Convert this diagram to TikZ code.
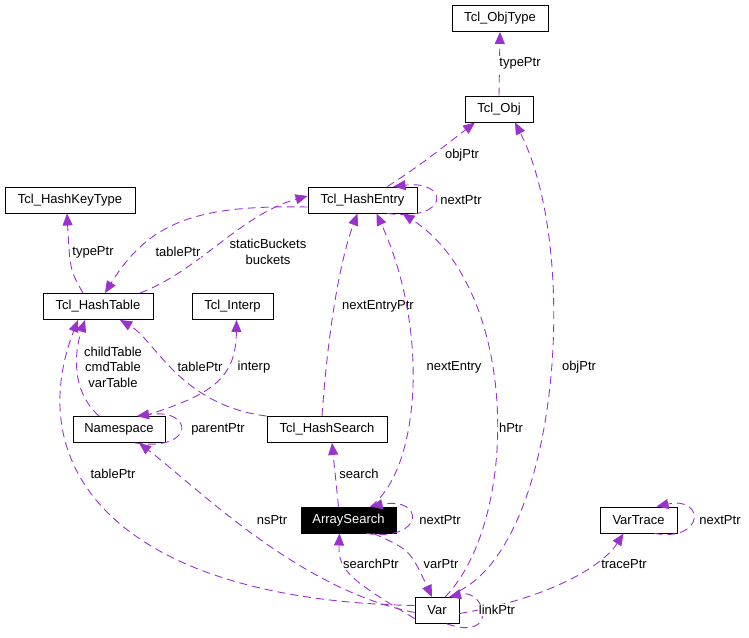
\documentclass[tikz,border=0pt]{standalone}
\usepackage{fontspec}
\setmainfont{Liberation Sans}
\usetikzlibrary{arrows.meta}
\definecolor{edge}{HTML}{9A32CD}
\begin{document}
\begin{tikzpicture}[x=1pt,y=-1pt,
  box/.style={draw,line width=0.9pt,minimum height=26pt,inner sep=0pt,font=\fontsize{13}{14}\selectfont},
  e/.style={draw=edge,line width=0.9pt,dash pattern=on 8pt off 5pt,-{Triangle[length=12pt,width=10pt,fill=edge]}},
  lbl/.style={font=\fontsize{13}{15.5}\selectfont,align=center,fill=white,inner sep=1pt}]
\useasboundingbox (0,0) rectangle (749,637);
\node[box,minimum width=96pt] (objtype) at (500,18.5) {Tcl\_ObjType};
\node[box,minimum width=68pt] (obj) at (499,109) {Tcl\_Obj};
\node[box,minimum width=109pt] (he) at (362.5,200) {Tcl\_HashEntry};
\node[box,minimum width=130pt] (hkt) at (70,200) {Tcl\_HashKeyType};
\node[box,minimum width=110pt] (ht) at (98,306.5) {Tcl\_HashTable};
\node[box,minimum width=81pt] (interp) at (232.5,306.5) {Tcl\_Interp};
\node[box,minimum width=92pt] (ns) at (119,429.5) {Namespace};
\node[box,minimum width=120pt] (hs) at (327,429.5) {Tcl\_HashSearch};
\node[box,minimum width=95pt,fill=black,text=white] (as) at (348.5,520) {ArraySearch};
\node[box,minimum width=77pt] (vt) at (638.5,520) {VarTrace};
\node[box,minimum width=44pt] (var) at (437,610.5) {Var};

\path[e] (obj.north) -- (objtype.south);
\node[lbl] at (520,63) {typePtr};
\path[e] ([xshift=-30pt]he.north east) .. controls (420,165) .. (475,122.5);
\node[lbl] at (462,155) {objPtr};
\path[e] ([xshift=-30pt]he.south east) .. controls (450,222) and (450,180) .. ([xshift=-24pt]he.north east);
\node[lbl] at (461,200) {nextPtr};
\path[e] ([xshift=-15pt]ht.north) .. controls (70,270) .. ([xshift=-3pt]hkt.south);
\node[lbl] at (93,252) {typePtr};
\path[e] ([xshift=42pt]ht.north) .. controls (200,270) and (240,215) .. ([yshift=4pt]he.west);
\node[lbl] at (268,252) {staticBuckets\\buckets};
\path[e] ([yshift=-7pt]he.west) .. controls (200,205) and (150,220) .. ([xshift=7pt]ht.north);
\node[lbl] at (178,252) {tablePtr};
\path[e] ([xshift=-20pt]ns.north) .. controls (70,390) and (75,350) .. ([xshift=-13pt]ht.south);
\node[lbl] at (113,367) {childTable\\cmdTable\\varTable};
\path[e] ([xshift=25pt]ns.north) .. controls (210,395) and (236,380) .. ([xshift=4pt]interp.south);
\node[lbl] at (254,367) {interp};
\path[e] ([xshift=16pt]ns.south) .. controls (195,452) and (195,408) .. ([xshift=18pt]ns.north);
\node[lbl] at (218,429) {parentPtr};
\path[e] (hs.north west) .. controls (180,405) and (155,340) .. ([xshift=22pt]ht.south);
\node[lbl] at (200,367) {tablePtr};
\path[e] ([xshift=-5pt]hs.north) .. controls (328,330) and (340,260) .. ([xshift=-5pt]he.south);
\node[lbl] at (378,306) {nextEntryPtr};
\path[e] ([xshift=-10pt]as.north) -- ([xshift=5pt]hs.south);
\node[lbl] at (359,474) {search};
\path[e] ([xshift=22pt]as.north) .. controls (420,470) and (430,330) .. ([xshift=14pt]he.south);
\node[lbl] at (454,367) {nextEntry};
\path[e] ([xshift=18pt]as.south) .. controls (425,542) and (425,496) .. ([xshift=22pt]as.north);
\node[lbl] at (440,520) {nextPtr};
\path[e] ([xshift=8pt]var.north) .. controls (520,520) and (520,290) .. ([xshift=40pt]he.south);
\node[lbl] at (511,428) {hPtr};
\path[e] ([xshift=22pt,yshift=6pt]var.north) .. controls (560,540) and (580,250) .. ([xshift=16pt]obj.south);
\node[lbl] at (579,367) {objPtr};
\path[e] ([yshift=5pt]var.west) .. controls (120,600) and (20,470) .. ([xshift=-20pt]ht.south);
\node[lbl] at (113,474) {tablePtr};
\path[e] ([yshift=-2pt]var.west) .. controls (300,590) and (200,490) .. ([xshift=20pt]ns.south);
\node[lbl] at (272,520) {nsPtr};
\path[e] ([yshift=-8pt]var.west) .. controls (350,580) and (338,570) .. ([xshift=-9pt]as.south);
\node[lbl] at (371,564) {searchPtr};
\path[e] ([xshift=25pt]as.south) .. controls (410,550) .. ([xshift=-5pt]var.north);
\node[lbl] at (441,564) {varPtr};
\path[e] ([yshift=-3pt]var.east) .. controls (540,600) and (600,570) .. ([xshift=-15pt]vt.south);
\node[lbl] at (624,564) {tracePtr};
\path[e] ([xshift=16pt]vt.south) .. controls (705,542) and (705,496) .. ([xshift=18pt]vt.north);
\node[lbl] at (720,520) {nextPtr};
\path[e] ([xshift=10pt]var.south) .. controls (500,642) and (485,588) .. ([xshift=12pt]var.north);
\node[lbl] at (497,610) {linkPtr};
\end{tikzpicture}
\end{document}
